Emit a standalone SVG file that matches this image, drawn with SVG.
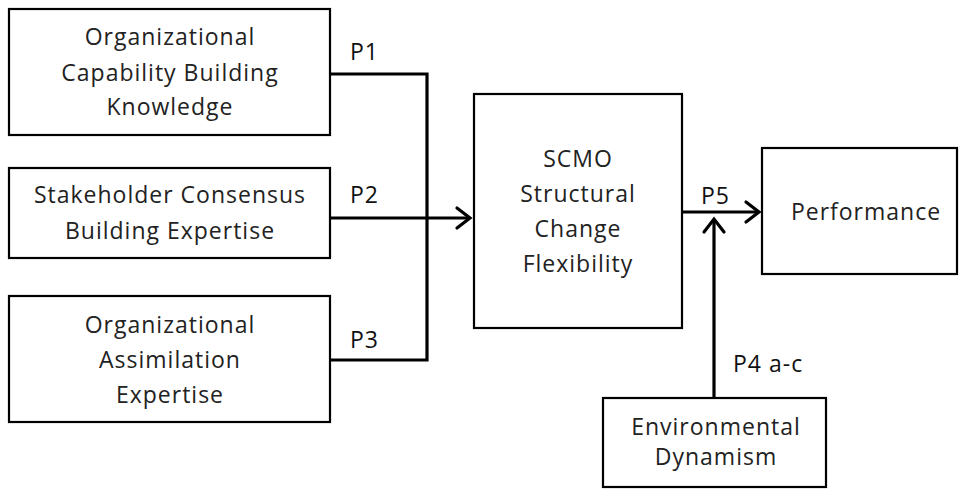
<svg xmlns="http://www.w3.org/2000/svg" width="961" height="489" viewBox="0 0 961 489">
<style>
.box{fill:#fff;stroke:#000;stroke-width:2.2}
.t{font-family:"Open Sans","Noto Sans",sans-serif;font-size:23px;letter-spacing:1px;fill:#222;text-anchor:middle}
.l{font-family:"Open Sans","Noto Sans",sans-serif;font-size:23px;letter-spacing:1px;fill:#111}
.c{fill:none;stroke:#000;stroke-width:3.2}
.ah{fill:none;stroke:#000;stroke-width:3.2;stroke-linecap:round;stroke-linejoin:miter}
</style>
<rect width="961" height="489" fill="#fff"/>
<g id="connectors">
<polyline class="c" points="330,74 427,74 427,360 330,360"/>
<line class="c" x1="330" y1="218" x2="470" y2="218"/>
<polyline class="ah" points="457,208 470,218 457,228"/>
<line class="c" x1="682" y1="212" x2="759" y2="212"/>
<polyline class="ah" points="746,202 759,212 746,222"/>
<line class="c" x1="714" y1="398" x2="714" y2="220"/>
<polyline class="ah" points="704,232 714,219 724,232"/>
<text class="l" x="350" y="60">P1</text>
<text class="l" x="350" y="203">P2</text>
<text class="l" x="350" y="348">P3</text>
<text class="l" x="701" y="204">P5</text>
<text class="l" x="733" y="372">P4 a-c</text>
</g>
<g id="n1">
<rect class="box" x="9" y="9" width="321" height="126"/>
<text class="t" x="170" y="45">Organizational</text>
<text class="t" x="170" y="81">Capability Building</text>
<text class="t" x="170" y="115">Knowledge</text>
</g>
<g id="n2">
<rect class="box" x="9" y="168" width="321" height="90"/>
<text class="t" x="170" y="203">Stakeholder Consensus</text>
<text class="t" x="170" y="239">Building Expertise</text>
</g>
<g id="n3">
<rect class="box" x="9" y="296" width="321" height="126"/>
<text class="t" x="170" y="333">Organizational</text>
<text class="t" x="170" y="368">Assimilation</text>
<text class="t" x="170" y="403">Expertise</text>
</g>
<g id="scmo">
<rect class="box" x="474" y="94" width="208" height="234"/>
<text class="t" x="578" y="167">SCMO</text>
<text class="t" x="578" y="202">Structural</text>
<text class="t" x="578" y="237">Change</text>
<text class="t" x="578" y="272">Flexibility</text>
</g>
<g id="performance">
<rect class="box" x="762" y="148" width="195" height="126"/>
<text class="t" x="866" y="220">Performance</text>
</g>
<g id="env">
<rect class="box" x="603" y="398" width="223" height="89"/>
<text class="t" x="716" y="435">Environmental</text>
<text class="t" x="716" y="465">Dynamism</text>
</g>
</svg>
